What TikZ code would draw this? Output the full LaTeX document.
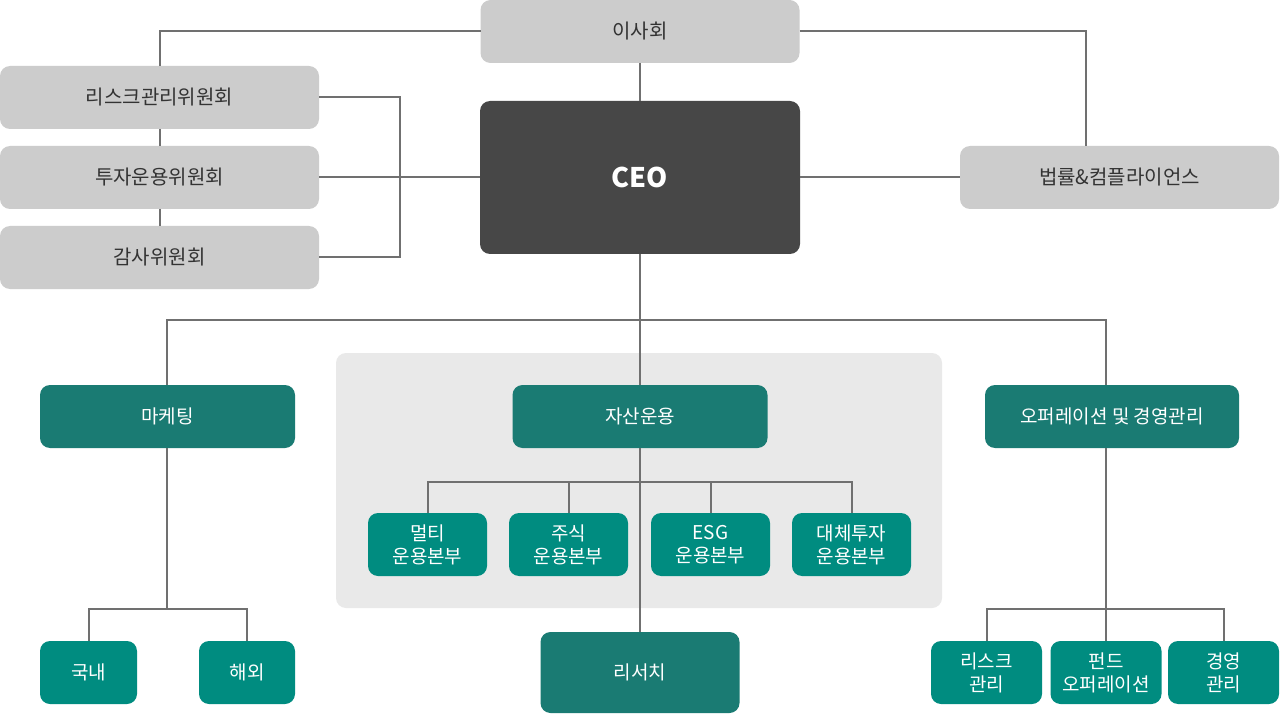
\documentclass[tikz,border=0pt]{standalone}
\usepackage{fontspec}
\setmainfont{Noto Sans CJK KR}
\begin{document}
\begin{tikzpicture}[x=1pt,y=-1pt,
  every node/.style={inner sep=0pt, outer sep=0pt, align=center},
  gbox/.style={fill=boxgray, rounded corners=10pt, text=txtdark, font=\fontsize{20}{24}\selectfont},
  ceobox/.style={fill=ceogray, rounded corners=10pt, text=white, font=\fontsize{27}{32}\selectfont\bfseries},
  dbox/.style={fill=tealdark, rounded corners=10pt, text=white, font=\fontsize{19}{23}\selectfont},
  bbox/.style={fill=tealbright, rounded corners=10pt, text=white, font=\fontsize{19}{23}\selectfont},
  conn/.style={draw=linegray, line width=2pt}]
\definecolor{boxgray}{HTML}{CCCCCC}
\definecolor{txtdark}{HTML}{333333}
\definecolor{ceogray}{HTML}{474747}
\definecolor{tealdark}{HTML}{1A7B73}
\definecolor{tealbright}{HTML}{008C80}
\definecolor{linegray}{HTML}{707070}
\definecolor{panelgray}{HTML}{E9E9E9}
\useasboundingbox (0,0) rectangle (1280,714);
\fill[white] (0,0) rectangle (1280,714);
% panel
\fill[panelgray, rounded corners=10pt] (336,353) rectangle (942,608);
% nodes (top)
\node[gbox, minimum width=319pt, minimum height=63pt] (board) at (640,31.5) {이사회};
\node[gbox, minimum width=319pt, minimum height=63pt] (risk) at (159.5,97.5) {리스크관리위원회};
\node[gbox, minimum width=319pt, minimum height=63pt] (invest) at (159.5,177.5) {투자운용위원회};
\node[gbox, minimum width=319pt, minimum height=63pt] (audit) at (159.5,257.5) {감사위원회};
\node[ceobox, minimum width=320pt, minimum height=153pt] (ceo) at (640,177.5) {CEO};
\node[gbox, minimum width=319pt, minimum height=63pt] (legal) at (1119.5,177.5) {법률\&컴플라이언스};
% second level
\node[dbox, minimum width=255pt, minimum height=63pt] (mkt) at (167.5,416.5) {마케팅};
\node[dbox, minimum width=255pt, minimum height=63pt] (am) at (640,416.5) {자산운용};
\node[dbox, minimum width=254pt, minimum height=63pt] (ops) at (1112,416.5) {오퍼레이션 및 경영관리};
% asset mgmt subs
\node[bbox, minimum width=119pt, minimum height=63pt] (multi) at (427.5,544.5) {멀티\\운용본부};
\node[bbox, minimum width=119pt, minimum height=63pt] (equity) at (568.5,544.5) {주식\\운용본부};
\node[bbox, minimum width=119pt, minimum height=63pt] (esg) at (710.5,544.5) {ESG\\운용본부};
\node[bbox, minimum width=119pt, minimum height=63pt] (alt) at (851.5,544.5) {대체투자\\운용본부};
% bottom
\node[bbox, minimum width=97pt, minimum height=63pt] (dom) at (88.5,672.5) {국내};
\node[bbox, minimum width=96pt, minimum height=63pt] (ovs) at (247,672.5) {해외};
\node[dbox, minimum width=199pt, minimum height=81pt] (res) at (640,672.5) {리서치};
\node[bbox, minimum width=111pt, minimum height=63pt] (rm) at (986.5,672.5) {리스크\\관리};
\node[bbox, minimum width=111pt, minimum height=63pt] (fund) at (1106,672.5) {펀드\\오퍼레이션};
\node[bbox, minimum width=111pt, minimum height=63pt] (mgmt) at (1223.5,672.5) {경영\\관리};
% connector helpers
\coordinate (bk) at (400,97.5);
\coordinate (hub) at (640,320);
\coordinate (amhub) at (640,482);
\coordinate (mkhub) at (167,609);
\coordinate (ophub) at (1106,609);
\coordinate (legtop) at (1086,146);
% connectors
\draw[conn] (board.west) -| (risk.north);
\draw[conn] (board.east) -| (legtop);
\draw[conn] (board.south) -- (ceo.north);
\draw[conn] (risk.south) -- (invest.north);
\draw[conn] (invest.south) -- (audit.north);
\draw[conn] (risk.east) -- (bk) |- (audit.east);
\draw[conn] (invest.east) -- (ceo.west);
\draw[conn] (ceo.east) -- (legal.west);
\draw[conn] (ceo.south) -- (hub);
\draw[conn] (hub) -| (mkt.north-|mkhub);
\draw[conn] (hub) -| (ops.north-|ophub);
\draw[conn] (hub) -- (am.north);
\draw[conn] (am.south) -- (res.north);
\draw[conn] (amhub) -| (multi.north);
\draw[conn] (amhub) -| (equity.north);
\draw[conn] (amhub) -| (esg.north);
\draw[conn] (amhub) -| (alt.north);
\draw[conn] (mkt.south-|mkhub) -- (mkhub);
\draw[conn] (mkhub) -| (dom.north);
\draw[conn] (mkhub) -| (ovs.north);
\draw[conn] (ops.south-|ophub) -- (ophub);
\draw[conn] (ophub) -| (rm.north);
\draw[conn] (ophub) -| (mgmt.north);
\draw[conn] (ophub) -- (fund.north);
\end{tikzpicture}
\end{document}
